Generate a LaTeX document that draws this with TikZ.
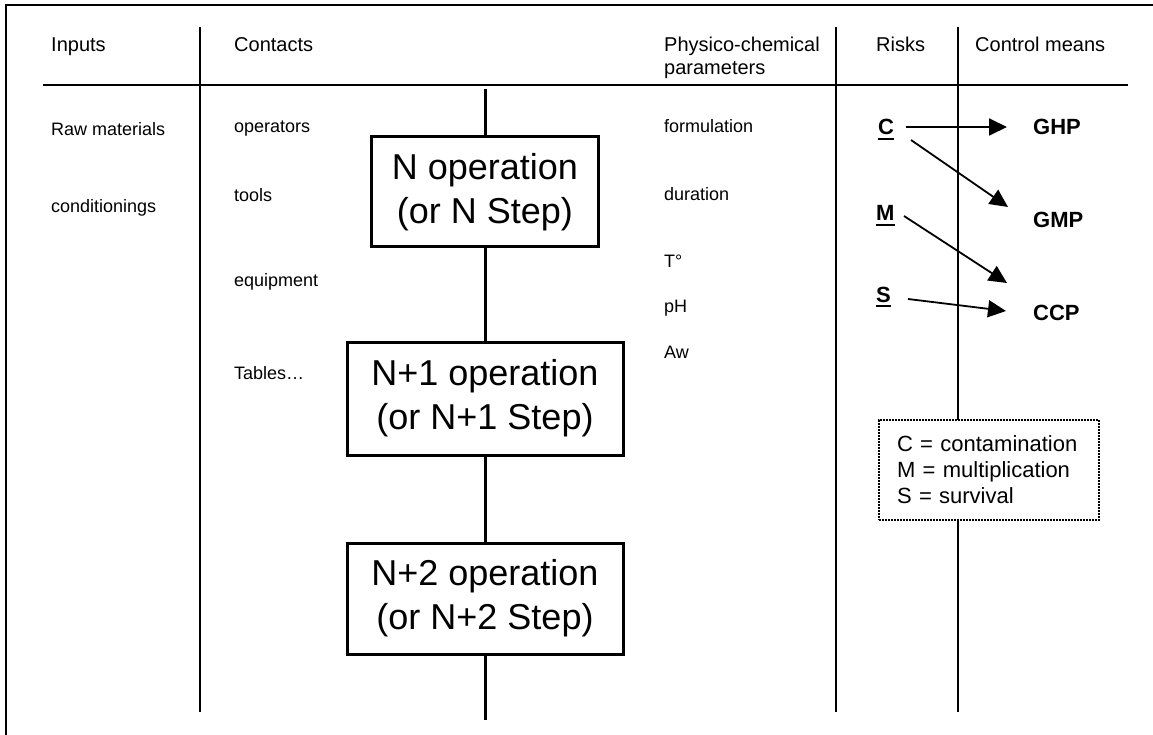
\documentclass[tikz,border=0pt]{standalone}
\usepackage{fontspec}
\setmainfont{Liberation Sans}
\usetikzlibrary{arrows.meta}
% thick underline placed a little below the baseline
\newcommand{\ulbox}[1]{\setbox0\hbox{#1}\rlap{\rule[-5pt]{\wd0}{2pt}}\box0}
\begin{document}
\begin{tikzpicture}[x=1pt,y=-1pt,
  hdr/.style={anchor=base west,inner sep=0pt,font=\fontsize{20}{23}\selectfont},
  item/.style={anchor=base west,inner sep=0pt,font=\fontsize{18}{21}\selectfont},
  risk/.style={anchor=base west,inner sep=0pt,font=\fontsize{22}{25}\selectfont\bfseries},
  ctrl/.style={anchor=base west,inner sep=0pt,font=\fontsize{22}{25}\selectfont\bfseries},
  stepbox/.style={draw,line width=3pt,fill=white,align=center,inner sep=0pt,
    font=\fontsize{36}{44}\selectfont},
  rule/.style={line width=2pt},
  flow/.style={line width=3pt},
  arr/.style={line width=1.8pt,-{Triangle[length=18pt,width=17pt]}},
  legendbox/.style={draw,line width=1.6pt,dash pattern=on 1.6pt off 1.4pt,fill=white,
    inner sep=0pt,minimum width=220pt,minimum height=100pt,text width=184pt,align=left,
    font=\fontsize{22}{26}\selectfont}
]
\useasboundingbox (0,0) rectangle (1153,735);

% frame and table rules
\draw[rule] (6,735) -- (6,5) -- (1153,5);
\draw[rule] (43,85) -- (1128,85);
\draw[rule] (200,27) -- (200,712);
\draw[rule] (836,27) -- (836,712);
\draw[rule] (958,27) -- (958,712);

% column headings
\node[hdr] (hInputs) at (51,52) {Inputs};
\node[hdr] (hContacts) at (234,52) {Contacts};
\node[hdr] (hPhys1) at (664,52) {Physico-chemical};
\node[hdr] (hPhys2) at (664,75) {parameters};
\node[hdr] (hRisks) at (876,52) {Risks};
\node[hdr] (hControl) at (975,52) {Control means};

% inputs
\node[item] (raw) at (51,136) {Raw materials};
\node[item] (cond) at (51,213) {conditionings};

% contacts
\node[item] (oper) at (234,133) {operators};
\node[item] (tools) at (234,202) {tools};
\node[item] (equip) at (234,286) {equipment};
\node[item] (tables) at (234,379) {Tables…};

% physico-chemical parameters
\node[item] (formu) at (664,133) {formulation};
\node[item] (durat) at (664,201) {duration};
\node[item] (temp) at (664,268) {T°};
\node[item] (ph) at (664,312) {pH};
\node[item] (aw) at (664,358) {Aw};

% process steps
\coordinate (flowtop) at (485,89);
\coordinate (flowend) at (485,720);
\node[stepbox,minimum width=227pt,minimum height=110pt] (stepN) at (485,192) {N operation\\(or N Step)};
\node[stepbox,minimum width=276pt,minimum height=113pt] (stepN1) at (485,398.5) {N+1 operation\\(or N+1 Step)};
\node[stepbox,minimum width=276pt,minimum height=111pt] (stepN2) at (485,598.5) {N+2 operation\\(or N+2 Step)};
\draw[flow] (flowtop) -- (stepN);
\draw[flow] (stepN) -- (stepN1);
\draw[flow] (stepN1) -- (stepN2);
\draw[flow] (stepN2) -- (flowend);

% risks and control means
\node[risk] (rC) at (878,135) {\ulbox{C}};
\node[risk] (rM) at (876,221) {\ulbox{M}};
\node[risk] (rS) at (876,302) {\ulbox{S}};
\node[ctrl] (GHP) at (1033,135) {GHP};
\node[ctrl] (GMP) at (1033,228) {GMP};
\node[ctrl] (CCP) at (1033,320) {CCP};

\coordinate (cOutA) at (906,127);
\coordinate (cOutB) at (911,140);
\coordinate (mOut) at (904,216);
\coordinate (sOut) at (908,299);
\coordinate (ghpIn) at (1007,127);
\coordinate (gmpIn) at (1008,207);
\coordinate (ccpInA) at (1007,283);
\coordinate (ccpInB) at (1006,311);
\draw[arr] (cOutA) -- (ghpIn);
\draw[arr] (cOutB) -- (gmpIn);
\draw[arr] (mOut) -- (ccpInA);
\draw[arr] (sOut) -- (ccpInB);

% legend
\node[legendbox] (legend) at (989,470) {C = contamination\\M = multiplication\\S = survival};
\end{tikzpicture}
\end{document}
